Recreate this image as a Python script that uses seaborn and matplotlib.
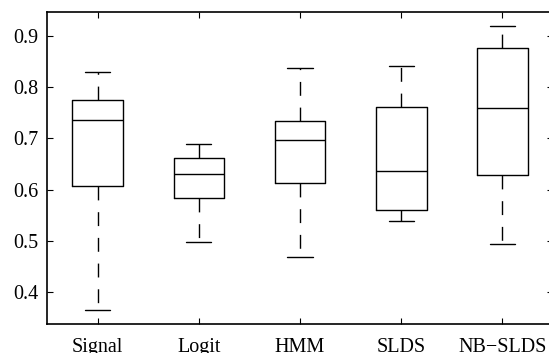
import numpy as np
import pandas as pd
import matplotlib
matplotlib.use("Agg")
import matplotlib.pyplot as plt
import seaborn as sns

# Five-number summaries (min, Q1, median, Q3, max)
methods = ["Signal", "Logit", "HMM", "SLDS", "NB\u2212SLDS"]
signal = [0.365, 0.608, 0.736, 0.776, 0.830]
logit = [0.498, 0.583, 0.631, 0.662, 0.690]
hmm = [0.469, 0.613, 0.697, 0.735, 0.838]
slds = [0.539, 0.560, 0.636, 0.761, 0.841]
nb_slds = [0.494, 0.628, 0.760, 0.877, 0.920]

df = pd.DataFrame({
    "method": np.repeat(methods, 5),
    "score": signal + logit + hmm + slds + nb_slds,
})

sns.set_style("ticks")
plt.rcParams["font.family"] = ["Liberation Serif", "DejaVu Serif"]

fig = plt.figure(figsize=(5.49, 3.53), dpi=100)
ax = fig.add_axes([47 / 549, 29 / 353, 506 / 549, 312 / 353])

sns.boxplot(data=df, x="method", y="score", order=methods, ax=ax,
            whis=np.inf, width=0.5, fill=False, color="black",
            linewidth=1.0,
            whiskerprops=dict(linestyle=(0, (10, 8.5))),
            medianprops=dict(color="black"))

ax.set_xlim(-0.5, 4.5)
ax.set_ylim(0.3375, 0.947)
ax.set_yticks([0.4, 0.5, 0.6, 0.7, 0.8, 0.9])
ax.set_xlabel("")
ax.set_ylabel("")
ax.tick_params(direction="in", length=4, width=0.8, top=True, right=True,
               labelsize=14.5, colors="black")
ax.tick_params(axis="x", pad=10)
ax.tick_params(axis="y", pad=6)
for s in ax.spines.values():
    s.set_linewidth(1.2)
    s.set_color("black")

fig.savefig("out.png", dpi=100)
